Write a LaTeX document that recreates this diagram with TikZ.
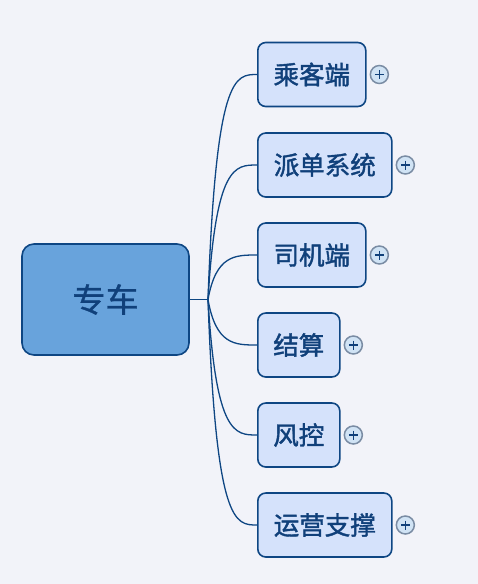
\documentclass[tikz,border=0pt]{standalone}
\usepackage{fontspec}
\setmainfont{Noto Sans CJK SC}
\newfontfamily\topicfont{Noto Sans CJK SC}[FakeBold=1.6]
\newfontfamily\rootfont{Noto Sans CJK SC}[FakeBold=1]
\usetikzlibrary{positioning}
\definecolor{canvasbg}{HTML}{F2F3F9}
\definecolor{rootfill}{HTML}{68A3DC}
\definecolor{topicfill}{HTML}{D5E2FB}
\definecolor{edgeblue}{HTML}{0E4683}
\definecolor{textblue}{HTML}{10407A}
\definecolor{plusfill}{HTML}{D0E3F5}
\definecolor{plusring}{HTML}{7A8CA4}

\begin{document}
\begin{tikzpicture}[
    x=1pt, y=-1pt,
    root/.style={draw=edgeblue, line width=1.6pt, fill=rootfill, rounded corners=12pt,
        minimum width=167pt, minimum height=111pt, inner sep=0pt,
        text=textblue, font=\rootfont\fontsize{33}{38}\selectfont},
    topic/.style={draw=edgeblue, line width=1.6pt, fill=topicfill, rounded corners=8pt,
        minimum height=64pt, inner sep=0pt, anchor=west,
        text=textblue, font=\topicfont\fontsize{25.5}{30}\selectfont},
    expander/.style={circle, draw=plusring, line width=1.5pt, fill=plusfill,
        minimum size=18pt, inner sep=0pt,
        path picture={\draw[textblue, line width=1.6pt]
            (path picture bounding box.center) +(-4.5,0) -- +(4.5,0)
            (path picture bounding box.center) +(0,-4.5) -- +(0,4.5);}},
    branch/.style={edgeblue, line width=1.3pt}
]
% background
\fill[canvasbg] (0,0) rectangle (478,584);
\useasboundingbox (0,0) rectangle (478,584);

% central topic
\node[root] (root) at (105.5,299.5) {专车};
\coordinate (fork) at (208,299.5);

% subtopics
\node[topic, minimum width=108pt] (cust)   at (257,74.5)  {乘客端};
\node[topic, minimum width=134pt] (disp)   at (257,165)   {派单系统};
\node[topic, minimum width=108pt] (drv)    at (257,255)   {司机端};
\node[topic, minimum width=82pt]  (settle) at (257,345)   {结算};
\node[topic, minimum width=82pt]  (risk)   at (257,435)   {风控};
\node[topic, minimum width=134pt] (ops)    at (257,525)   {运营支撑};

% collapsed markers
\node[expander, right=3pt of cust]   (custplus)   {};
\node[expander, right=3pt of disp]   (displus)    {};
\node[expander, right=3pt of drv]    (drvplus)    {};
\node[expander, right=3pt of settle] (settleplus) {};
\node[expander, right=3pt of risk]   (riskplus)   {};
\node[expander, right=3pt of ops]    (opsplus)    {};

% connectors
\draw[branch] (root.east) -- (fork);
\foreach \t in {cust,disp,drv,settle,risk,ops}
    \draw[branch] (fork) .. controls ([xshift=8pt]fork |- \t.west) and ([xshift=-22pt]\t.west) .. (\t.west);

\end{tikzpicture}
\end{document}
